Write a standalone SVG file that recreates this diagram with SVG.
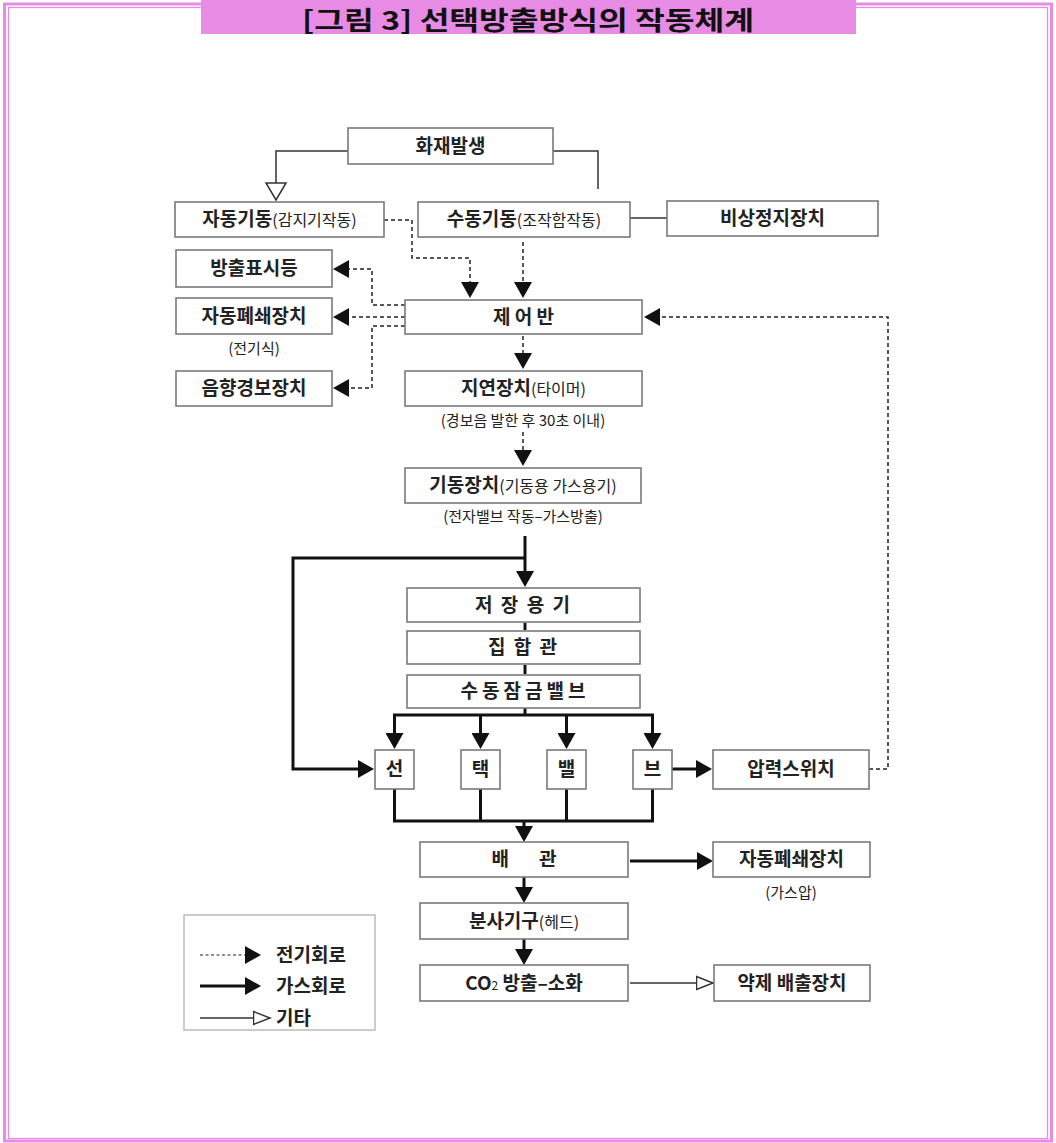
<svg xmlns="http://www.w3.org/2000/svg" width="1056" height="1143" viewBox="0 0 1056 1143">
<defs>
<style>
.box{fill:#fff;stroke:#7a7a7a;stroke-width:1.6}
.t{font-family:"Noto Sans CJK KR","Noto Sans",sans-serif;font-size:19px;font-weight:700;fill:#222;text-anchor:middle}
.s{font-family:"Noto Sans CJK KR","Noto Sans",sans-serif;font-size:15px;font-weight:400;fill:#222;text-anchor:middle}
.sm{font-size:16px;font-weight:400}
.lt{font-family:"Noto Sans CJK KR","Noto Sans",sans-serif;font-size:19px;font-weight:700;fill:#222}
.dash{fill:none;stroke:#222;stroke-width:1.5;stroke-dasharray:4 3}
.gas{fill:none;stroke:#111;stroke-width:3}
.thin{fill:none;stroke:#333;stroke-width:1.5}
</style>
<marker id="af" markerUnits="userSpaceOnUse" markerWidth="16" markerHeight="18" refX="13" refY="9" orient="auto"><path d="M0,0 L16,9 L0,18 z" fill="#111"/></marker>
<marker id="ah" markerUnits="userSpaceOnUse" markerWidth="20" markerHeight="22" refX="18" refY="11" orient="auto"><path d="M1,1 L18,11 L1,21 z" fill="#fff" stroke="#333" stroke-width="1.5"/></marker>
<marker id="ah2" markerUnits="userSpaceOnUse" markerWidth="19" markerHeight="16" refX="17.5" refY="8" orient="auto"><path d="M1,1.5 L17.5,8 L1,14.5 z" fill="#fff" stroke="#333" stroke-width="1.5"/></marker>
</defs>
<rect width="1056" height="1143" fill="#fff"/>
<g id="frame">
<rect x="4.5" y="4" width="1047" height="1137" fill="none" stroke="#e88be5" stroke-width="3"/>
<rect x="8.5" y="7.5" width="1039" height="1131" fill="none" stroke="#e88be5" stroke-width="1.3"/>
<rect x="201" y="0" width="655" height="34" fill="#e88be5"/>
<text x="528" y="30" font-family="'Noto Sans CJK KR','Noto Sans',sans-serif" font-size="26" font-weight="700" fill="#111" text-anchor="middle" textLength="452" lengthAdjust="spacingAndGlyphs">[그림 3] 선택방출방식의 작동체계</text>
</g>
<g id="connectors">
<polyline class="thin" points="348,151 276,151 276,200" marker-end="url(#ah)"/>
<polyline class="thin" points="553,151 598,151 598,189"/>
<line class="thin" x1="630" y1="218" x2="667" y2="218"/>
<polyline class="dash" points="384,220 412,220 412,258 470,258 470,295" marker-end="url(#af)"/>
<polyline class="dash" points="523,242 523,295" marker-end="url(#af)"/>
<polyline class="dash" points="405,305 372,305 372,269 336,269" marker-end="url(#af)"/>
<polyline class="dash" points="405,317 336,317" marker-end="url(#af)"/>
<polyline class="dash" points="405,326 372,326 372,388 336,388" marker-end="url(#af)"/>
<polyline class="dash" points="523,336 523,366" marker-end="url(#af)"/>
<polyline class="dash" points="523,432 523,463" marker-end="url(#af)"/>
<polyline class="dash" points="869,769 888,769 888,317 647,317" marker-end="url(#af)"/>
<polyline class="gas" points="525,536 525,584" marker-end="url(#af)"/>
<polyline class="gas" points="525,558 293,558 293,769 371,769" marker-end="url(#af)"/>
<line class="gas" x1="525" y1="623" x2="525" y2="630"/>
<line class="gas" x1="525" y1="665" x2="525" y2="674"/>
<polyline class="gas" points="525,708 525,715"/>
<polyline class="gas" points="393,715 654,715"/>
<polyline class="gas" points="394.5,715 394.5,746" marker-end="url(#af)"/>
<polyline class="gas" points="480.5,715 480.5,746" marker-end="url(#af)"/>
<polyline class="gas" points="566.5,715 566.5,746" marker-end="url(#af)"/>
<polyline class="gas" points="652.5,715 652.5,746" marker-end="url(#af)"/>
<polyline class="gas" points="394.5,789 394.5,821 652.5,821 652.5,789"/>
<polyline class="gas" points="480.5,789 480.5,821"/>
<polyline class="gas" points="566.5,789 566.5,821"/>
<polyline class="gas" points="524,821 524,839" marker-end="url(#af)"/>
<polyline class="gas" points="672,769 709,769" marker-end="url(#af)"/>
<polyline class="gas" points="630,861 710,861" marker-end="url(#af)"/>
<polyline class="gas" points="524,877 524,900" marker-end="url(#af)"/>
<polyline class="gas" points="524,939 524,962" marker-end="url(#af)"/>
<polyline class="thin" points="630,983 713,983" marker-end="url(#ah2)"/>
</g>
<g id="n-fire"><rect class="box" x="348" y="128" width="205" height="36"/><text class="t" x="450.5" y="153">화재발생</text></g>
<g id="n-auto"><rect class="box" x="175" y="202" width="209" height="35"/><text class="t" x="279.5" y="226">자동기동<tspan class="sm">(감지기작동)</tspan></text></g>
<g id="n-manual"><rect class="box" x="418" y="202" width="212" height="35"/><text class="t" x="524" y="226">수동기동<tspan class="sm">(조작함작동)</tspan></text></g>
<g id="n-estop"><rect class="box" x="667" y="201" width="211" height="35"/><text class="t" x="772.5" y="225">비상정지장치</text></g>
<g id="n-lamp"><rect class="box" x="176" y="250" width="156" height="37"/><text class="t" x="254" y="275">방출표시등</text></g>
<g id="n-eclose"><rect class="box" x="176" y="298" width="156" height="36"/><text class="t" x="254" y="323">자동폐쇄장치</text><text class="s" x="254" y="354">(전기식)</text></g>
<g id="n-alarm"><rect class="box" x="176" y="371" width="156" height="35"/><text class="t" x="254" y="395">음향경보장치</text></g>
<g id="n-panel"><rect class="box" x="405" y="300" width="237" height="34"/><text class="t" x="523.5" y="324">제 어 반</text></g>
<g id="n-delay"><rect class="box" x="405" y="371" width="237" height="35"/><text class="t" x="523.5" y="395">지연장치<tspan class="sm">(타이머)</tspan></text><text class="s" x="523" y="426">(경보음 발한 후 30초 이내)</text></g>
<g id="n-starter"><rect class="box" x="405" y="468" width="236" height="35"/><text class="t" x="523" y="492">기동장치<tspan class="sm">(기동용 가스용기)</tspan></text><text class="s" x="523" y="522">(전자밸브 작동–가스방출)</text></g>
<g id="n-storage"><rect class="box" x="407" y="588" width="233" height="34"/><text class="t" x="523.5" y="612" letter-spacing="2">저 장 용 기</text></g>
<g id="n-manifold"><rect class="box" x="407" y="631" width="233" height="33"/><text class="t" x="523.5" y="654" letter-spacing="2">집 합 관</text></g>
<g id="n-lockvalve"><rect class="box" x="407" y="675" width="233" height="33"/><text class="t" x="525" y="698" letter-spacing="4">수동잠금밸브</text></g>
<g id="n-v1"><rect class="box" x="375" y="750" width="39" height="39"/><text class="t" x="394.5" y="776">선</text></g>
<g id="n-v2"><rect class="box" x="461" y="750" width="39" height="39"/><text class="t" x="480.5" y="776">택</text></g>
<g id="n-v3"><rect class="box" x="547" y="750" width="39" height="39"/><text class="t" x="566.5" y="776">밸</text></g>
<g id="n-v4"><rect class="box" x="633" y="750" width="39" height="39"/><text class="t" x="652.5" y="776">브</text></g>
<g id="n-pswitch"><rect class="box" x="713" y="750" width="156" height="39"/><text class="t" x="791" y="776">압력스위치</text></g>
<g id="n-pipe"><rect class="box" x="420" y="842" width="208" height="35"/><text class="t" x="524" y="866">배<tspan dx="30">관</tspan></text></g>
<g id="n-gclose"><rect class="box" x="713" y="842" width="157" height="35"/><text class="t" x="791.5" y="866">자동폐쇄장치</text><text class="s" x="791" y="898">(가스압)</text></g>
<g id="n-head"><rect class="box" x="420" y="903" width="208" height="36"/><text class="t" x="524" y="928">분사기구<tspan class="sm">(헤드)</tspan></text></g>
<g id="n-co2"><rect class="box" x="420" y="965" width="208" height="36"/><text class="t" x="524" y="990">CO<tspan font-size="12" font-weight="400">2</tspan> 방출–소화</text></g>
<g id="n-agent"><rect class="box" x="714" y="965" width="156" height="36"/><text class="t" x="792" y="990">약제 배출장치</text></g>
<g id="legend">
<rect x="184" y="915" width="191" height="115" fill="#fff" stroke="#bbb" stroke-width="1.5"/>
<line x1="200" y1="955" x2="258" y2="955" stroke="#222" stroke-width="1.2" stroke-dasharray="3 2.5" marker-end="url(#af)"/>
<text class="lt" x="276" y="962">전기회로</text>
<line class="gas" x1="200" y1="986" x2="258" y2="986" marker-end="url(#af)"/>
<text class="lt" x="276" y="993">가스회로</text>
<line class="thin" x1="200" y1="1018" x2="270" y2="1018" marker-end="url(#ah2)"/>
<text class="lt" x="276" y="1025">기타</text>
</g>
</svg>
